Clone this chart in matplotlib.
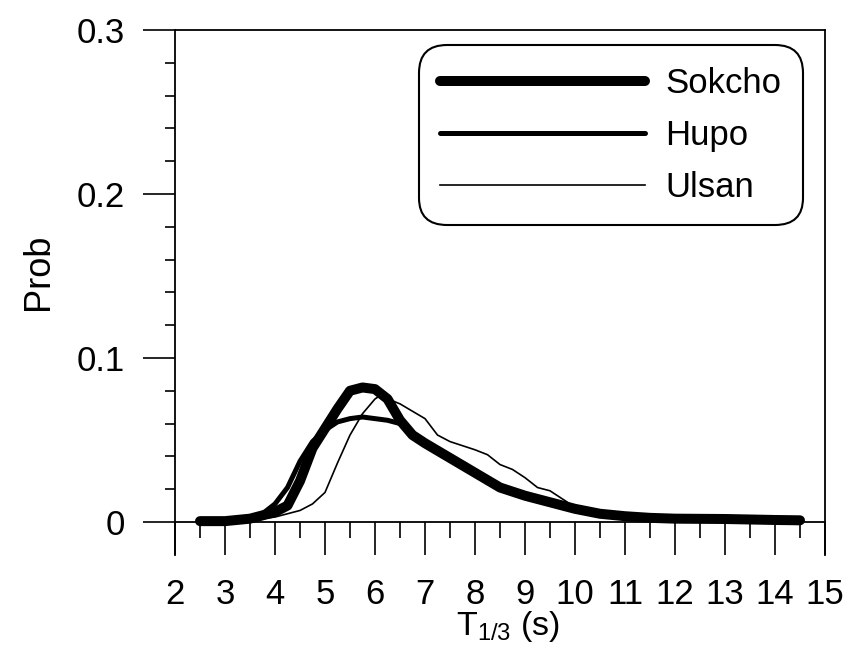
import matplotlib.pyplot as plt
from matplotlib.ticker import MultipleLocator

plt.rcParams['font.family'] = ['Liberation Sans', 'DejaVu Sans']

# Probability of significant wave period
sokcho_t = [2.5, 3.0, 3.5, 3.75, 4.0, 4.25, 4.5, 4.75, 5.0, 5.25, 5.5, 5.75,
            6.0, 6.25, 6.5, 6.75, 7.0, 7.5, 8.0, 8.5, 9.0, 9.5, 10.0, 10.5,
            11.0, 11.5, 12.0, 13.0, 14.0, 14.5]
sokcho_p = [0.0005, 0.0005, 0.002, 0.004, 0.006, 0.010, 0.025, 0.045, 0.057,
            0.069, 0.080, 0.082, 0.081, 0.075, 0.062, 0.053, 0.048, 0.039,
            0.030, 0.021, 0.016, 0.012, 0.008, 0.005, 0.0035, 0.0025, 0.002,
            0.0018, 0.0012, 0.001]

hupo_t = [2.5, 3.0, 3.5, 3.75, 4.0, 4.25, 4.5, 4.75, 5.0, 5.25, 5.5, 5.75,
          6.0, 6.25, 6.5, 6.75, 7.0, 7.5, 8.0, 8.5, 9.0, 9.5, 10.0, 10.5,
          11.0, 12.0, 13.0, 14.0, 14.5]
hupo_p = [0.0005, 0.001, 0.003, 0.005, 0.011, 0.021, 0.037, 0.049, 0.056,
          0.061, 0.063, 0.064, 0.063, 0.062, 0.060, 0.053, 0.047, 0.038,
          0.029, 0.020, 0.015, 0.011, 0.008, 0.005, 0.0035, 0.002, 0.0017,
          0.0012, 0.001]

ulsan_t = [2.5, 3.0, 3.5, 4.0, 4.25, 4.5, 4.75, 5.0, 5.25, 5.5, 5.75, 6.0,
           6.1, 6.5, 7.0, 7.25, 7.5, 8.0, 8.25, 8.5, 8.75, 9.0, 9.25, 9.5,
           9.75, 10.0, 10.5, 11.0, 12.0, 13.0, 14.0, 14.5]
ulsan_p = [0.0003, 0.0005, 0.001, 0.003, 0.005, 0.007, 0.011, 0.018, 0.036,
           0.053, 0.066, 0.075, 0.077, 0.072, 0.063, 0.053, 0.049, 0.044,
           0.041, 0.035, 0.032, 0.027, 0.021, 0.019, 0.014, 0.009, 0.005,
           0.0035, 0.002, 0.0017, 0.0012, 0.001]

x_ticks = list(range(2, 16))
y_ticks = [0, 0.1, 0.2, 0.3]
y_tick_labels = ['0', '0.1', '0.2', '0.3']

fig = plt.figure(figsize=(8.55, 6.56), dpi=100)
ax = fig.add_axes([0.2047, 0.1546, 0.7602, 0.7997])

ax.plot(sokcho_t, sokcho_p, color='black', lw=7.2, solid_capstyle='round',
        solid_joinstyle='round', label='Sokcho')
ax.plot(hupo_t, hupo_p, color='black', lw=3.6, solid_capstyle='round',
        solid_joinstyle='round', label='Hupo')
ax.plot(ulsan_t, ulsan_p, color='black', lw=1.2, label='Ulsan')

ax.set_xlim(2, 15)
ax.set_ylim(-0.0199, 0.3)
ax.spines['bottom'].set_position(('data', 0))
for s in ax.spines.values():
    s.set_linewidth(1.3)

ax.set_xticks(x_ticks)
ax.xaxis.set_minor_locator(MultipleLocator(0.5))
ax.set_yticks(y_ticks)
ax.set_yticklabels(y_tick_labels)
ax.yaxis.set_minor_locator(MultipleLocator(0.02))

ax.tick_params(axis='x', which='major', direction='out', length=23.5,
               width=1.2, pad=17, labelsize=25)
ax.tick_params(axis='x', which='minor', direction='out', length=11.5,
               width=1.2)
ax.tick_params(axis='y', which='major', direction='out', length=23,
               width=1.2, pad=13, labelsize=25)
ax.tick_params(axis='y', which='minor', direction='out', length=7, width=1.2)

ax.set_xlabel(r'$\mathregular{T_{1/3}}$ (s)', fontsize=24.5)
ax.xaxis.set_label_coords(0.512, -0.103)
ax.set_ylabel('Prob', fontsize=26)
ax.yaxis.set_label_coords(-0.183, 0.539)

leg = ax.legend(loc='upper right', bbox_to_anchor=(0.966, 0.971),
                fontsize=25, handlelength=5.9, handletextpad=0.58,
                labelspacing=0.55, borderpad=0.62, borderaxespad=0,
                fancybox=True, framealpha=1, edgecolor='black')
leg.get_frame().set_linewidth(1.5)
leg.get_frame().set_boxstyle('round,pad=0.0,rounding_size=0.8')

fig.savefig('out.png', dpi=100)
